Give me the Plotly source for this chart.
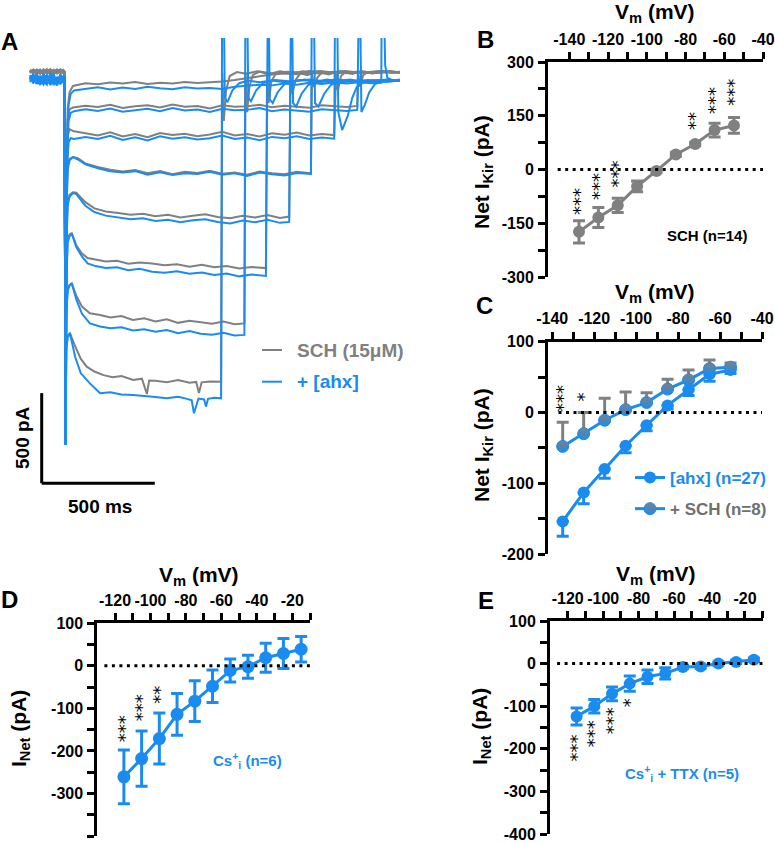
import plotly.graph_objects as go

W, H = 775, 843
BLUE = "#1a8cf0"
GRAY = "#808080"
FONT = "Liberation Sans, Arial, sans-serif"

# ---------------- Panel A: current traces (ms, pA) ----------------
PRE_T = [-155, -140, -125, -110, -95, -80, -65, -50, -35, -20, -8]

gray_t = [
    PRE_T + [-2, 2, 6, 12, 20, 35] + [90, 145, 200, 255, 310, 365, 420, 475, 530, 585, 640, 695, 750, 805, 860, 915, 970, 1025, 1080, 1135, 1190, 1245, 1300, 1355, 1398] + [1420, 1450, 1480],
    PRE_T + [-2, 2, 6, 12, 20, 35] + [90, 145, 200, 255, 310, 365, 420, 475, 530, 585, 640, 695, 750, 805, 860, 915, 970, 1025, 1080, 1135, 1190, 1245, 1292] + [1297, 1305, 1318, 1335, 1360, 1400, 1440, 1480],
    PRE_T + [-2, 2, 6, 12, 20, 35] + [90, 145, 200, 255, 310, 365, 420, 475, 530, 585, 640, 695, 750, 805, 860, 915, 970, 1025, 1080, 1135, 1190] + [1198, 1206, 1220, 1240, 1270, 1310, 1360, 1420, 1480],
    PRE_T + [-2, 2, 6, 12, 20, 35, 55] + [90, 145, 200, 255, 310, 365, 420, 475, 530, 585, 640, 695, 750, 805, 860, 915, 970, 1025, 1087] + [1092, 1100, 1115, 1135, 1165, 1210, 1260, 1320, 1380, 1440, 1480],
    PRE_T + [-2, 2, 6, 12, 20, 35, 50] + [90, 130, 180, 235, 290, 345, 400, 455, 510, 565, 620, 675, 730, 785, 840, 895, 950, 991] + [996, 1005, 1020, 1040, 1070, 1110, 1160, 1220, 1280, 1340, 1400, 1480],
    PRE_T + [-2, 2, 6, 12, 20, 30, 50, 74] + [100, 135, 180, 230, 280, 330, 385, 440, 495, 550, 605, 660, 715, 770, 825, 888] + [893, 900, 912, 930, 960, 1000, 1050, 1110, 1170, 1240, 1310, 1380, 1480],
    PRE_T + [-2, 2, 6, 12, 20, 30, 50, 75, 110] + [155, 200, 250, 300, 350, 400, 450, 500, 550, 600, 650, 700, 750, 793] + [798, 805, 815, 830, 860, 900, 950, 1010, 1080, 1150, 1230, 1310, 1400, 1480],
    PRE_T + [-2, 2, 6, 12, 22, 45, 70, 96] + [130, 170, 210, 250, 301, 340, 362, 372, 400, 450, 500, 550, 580, 592, 604, 640, 690] + [695, 702, 712, 728, 760, 800, 850, 910, 980, 1050, 1130, 1210, 1290, 1380, 1480],
]
gray_i = [
    [25, 36, 14, 30, 22, 38, 12, 28, 35, 17, 26] + [20, -1850, -500, -180, -90, -55] + [-40, -46, -36, -42, -34, -44, -37, -41, -33, -39, -35, -30, -22, -14, -2, 8, 14, 10, 18, 14, 22, 16, 24, 18, 20] + [26, 18, 24],
    [30, 15, 35, 20, 37, 14, 27, 11, 33, 19, 32] + [22, -1880, -520, -240, -185, -175] + [-165, -172, -160, -178, -168, -163, -175, -158, -170, -166, -180, -162, -171, -168, -160, -174, -165, -170, -176, -162, -168, -172, -166] + [10, -60, 5, 20, 14, 26, 18, 24],
    [17, 34, 26, 12, 31, 22, 38, 15, 27, 20, 33] + [24, -1900, -560, -330, -295, -305] + [-318, -330, -312, -335, -322, -340, -316, -328, -320, -334, -325, -310, -330, -322, -336, -318, -326, -314, -330, -322, -328] + [12, -80, 0, 22, 12, 28, 16, 25, 20],
    [34, 19, 29, 14, 35, 23, 12, 31, 20, 37, 16] + [22, -1950, -700, -520, -470, -450, -455] + [-485, -505, -520, -530, -522, -540, -528, -545, -532, -538, -526, -542, -535, -548, -530, -540, -545, -532, -540] + [15, -60, -10, 20, 8, 26, 14, 24, 18, 28, 20],
    [22, 33, 15, 30, 18, 34, 26, 12, 36, 25, 17] + [20, -2000, -900, -700, -660, -645, -648] + [-700, -735, -752, -760, -770, -765, -778, -770, -785, -775, -768, -782, -790, -776, -785, -772, -788, -780] + [18, -100, -20, 15, 5, 22, 12, 25, 16, 22, 28, 20],
    [29, 16, 33, 24, 13, 35, 21, 30, 17, 28, 34] + [22, -2040, -1100, -900, -880, -873, -940, -984] + [-1010, -1020, -1030, -1025, -1042, -1035, -1040, -1050, -1045, -1058, -1048, -1062, -1055, -1068, -1060, -1066] + [20, -150, -30, 10, 24, 12, 26, 15, 22, 28, 18, 24, 20],
    [20, 31, 24, 36, 15, 29, 22, 34, 13, 27, 21] + [20, -2040, -1300, -1180, -1160, -1151, -1220, -1280, -1317] + [-1326, -1340, -1332, -1354, -1345, -1362, -1350, -1370, -1358, -1368, -1375, -1362, -1378, -1373] + [22, -200, -60, 5, 24, 10, 26, 14, 28, 18, 24, 16, 26, 20],
    [27, 18, 33, 21, 30, 13, 35, 24, 16, 31, 23] + [20, -2040, -1500, -1440, -1428, -1500, -1570, -1613] + [-1640, -1660, -1672, -1665, -1687, -1680, -1765, -1690, -1692, -1700, -1688, -1702, -1698, -1760, -1700, -1695, -1697] + [18, -250, -80, 0, 22, 12, 26, 15, 24, 20, 28, 16, 24, 18, 22],
]

blue_t = [
    PRE_T + [-2, 2, 6, 10, 16, 25, 40] + [90, 145, 200, 255, 310, 365, 420, 475, 530, 585, 640, 695, 750, 805, 860, 915, 970, 1025, 1080, 1135, 1190, 1245, 1300, 1355, 1398] + [1401, 1406, 1415, 1425, 1450, 1480],
    PRE_T + [-2, 2, 6, 10, 16, 25, 40] + [90, 145, 200, 255, 310, 365, 420, 475, 530, 585, 640, 695, 750, 805, 860, 915, 970, 1025, 1080, 1135, 1190, 1245, 1292] + [1297, 1302, 1310, 1325, 1345, 1370, 1400, 1440, 1480],
    PRE_T + [-2, 2, 6, 10, 16, 25, 40] + [90, 145, 200, 255, 310, 365, 420, 475, 530, 585, 640, 695, 750, 805, 860, 915, 970, 1025, 1080, 1135, 1190] + [1195, 1200, 1208, 1225, 1250, 1270, 1290, 1320, 1360, 1420, 1480],
    PRE_T + [-2, 2, 6, 12, 20, 35, 55] + [90, 145, 200, 255, 310, 365, 420, 475, 530, 585, 640, 695, 750, 805, 860, 915, 970, 1025, 1087] + [1092, 1097, 1105, 1120, 1145, 1175, 1210, 1260, 1320, 1380, 1440, 1480],
    PRE_T + [-2, 2, 6, 12, 20, 35, 50] + [90, 130, 180, 235, 290, 345, 400, 455, 510, 565, 620, 675, 730, 785, 840, 895, 950, 991] + [996, 1001, 1008, 1022, 1045, 1075, 1110, 1160, 1220, 1290, 1360, 1420, 1480],
    PRE_T + [-2, 2, 6, 12, 20, 30, 50, 74] + [100, 135, 180, 230, 280, 330, 385, 440, 495, 550, 605, 660, 715, 770, 825, 888] + [893, 898, 905, 918, 940, 970, 1010, 1060, 1120, 1190, 1260, 1340, 1410, 1480],
    PRE_T + [-2, 2, 6, 12, 20, 30, 50, 75, 110] + [155, 200, 250, 300, 350, 400, 450, 500, 550, 600, 650, 700, 750, 793] + [798, 803, 810, 822, 845, 875, 915, 970, 1040, 1120, 1200, 1290, 1380, 1480],
    PRE_T + [-2, 2, 6, 12, 22, 45, 70, 110] + [155, 200, 250, 301, 350, 400, 449, 500, 540, 560, 570, 590, 615, 623, 632, 660, 690] + [695, 700, 706, 718, 740, 770, 810, 860, 930, 1000, 1080, 1160, 1240, 1320, 1400, 1480],
]
blue_i = [
    [5, -32, 14, -46, -6, -36, 16, -20, -44, 4, -26] + [-10, -2048, -900, -350, -160, -100, -80] + [-70, -62, -75, -64, -72, -60, -68, -74, -62, -70, -66, -72, -60, -55, -48, -52, -42, -48, -38, -45, -36, -42, -35, -40, -38] + [700, 700, 60, -10, -25, -20],
    [-14, 10, -40, -2, -28, -48, 8, -34, -8, -42, -16] + [-12, -2048, -1000, -420, -250, -205, -195] + [-185, -194, -180, -198, -188, -182, -196, -178, -192, -186, -200, -182, -190, -188, -178, -196, -186, -192, -198, -184, -190, -194, -188] + [700, 700, -200, -160, -90, -45, -30, -22, -28],
    [-34, 2, -16, -50, 12, -24, -44, -4, -38, 6, -30] + [-10, -2048, -1050, -480, -370, -345, -350] + [-338, -350, -332, -355, -340, -358, -335, -348, -340, -352, -345, -330, -350, -342, -356, -338, -346, -334, -350, -342, -348] + [700, 700, -200, -300, -220, -120, -60, -35, -25, -32, -22],
    [-6, -40, 8, -22, -47, -10, -32, 12, -42, -18, -2] + [-8, -2048, -750, -500, -460, -450, -462] + [-490, -512, -528, -536, -528, -548, -534, -550, -540, -544, -532, -548, -540, -555, -536, -546, -552, -538, -544] + [700, 700, -150, -170, -100, -50, -30, -20, -35, -25, -30, -22],
    [-20, 8, -42, -8, -30, 2, -50, -14, -36, 10, -24] + [-10, -2048, -950, -720, -670, -650, -655] + [-720, -755, -775, -785, -795, -790, -805, -798, -812, -800, -795, -810, -818, -802, -812, -798, -815, -810] + [700, 700, -150, -170, -100, -50, -30, -20, -35, -25, -32, -20, -28],
    [-2, -36, -12, -48, 4, -28, -40, -8, -22, -46, 0] + [-10, -2048, -1150, -920, -890, -875, -950, -1000] + [-1040, -1055, -1065, -1062, -1078, -1070, -1086, -1092, -1084, -1098, -1090, -1104, -1096, -1112, -1102, -1110] + [700, 700, -130, -150, -90, -45, -30, -20, -35, -25, -30, -22, -32, -24],
    [-26, -2, -44, -14, 8, -34, -8, -50, -20, 0, -38] + [-10, -2048, -1320, -1190, -1165, -1151, -1240, -1320, -1373] + [-1390, -1400, -1395, -1412, -1405, -1419, -1410, -1428, -1416, -1430, -1436, -1425, -1440, -1437] + [700, 700, -120, -140, -80, -40, -25, -35, -22, -30, -20, -32, -24, -28],
    [-10, -32, 2, -46, -18, 6, -38, -24, -52, -6, -28] + [-10, -2048, -1520, -1450, -1428, -1560, -1650, -1706] + [-1761, -1755, -1768, -1770, -1778, -1782, -1789, -1780, -1792, -1800, -1872, -1790, -1795, -1835, -1792, -1786, -1789] + [700, 700, -120, -145, -80, -40, -25, -35, -22, -30, -20, -32, -24, -30, -22, -26],
]

SCALE_PA = 500
SCALE_MS = 500

# ---------------- Panel B ----------------
VB = [-135, -125, -115, -105, -95, -85, -75, -65, -55]
IB = [-174, -134, -100, -47, -4, 42, 71, 110, 123]
EB = [31, 28, 20, 15, 5, 5, 5, 19, 22]
STARS_B = [(-135, "***"), (-125, "***"), (-115, "***"), (-75, "**"), (-65, "***"), (-55, "***")]
STARS_B_Y = [-88, -48, -12, 136, 193, 217]

# ---------------- Panel C ----------------
VC = [-135, -125, -115, -105, -95, -85, -75, -65, -55]
IC_AHX = [-154, -113, -80, -47, -18, 10, 32, 54, 60]
EC_AHX = [21, 16, 13, 10, 8, 5, 8, 10, 5]
IC_SCH = [-48, -30, -11, 4, 14, 33, 46, 62, 64]
EC_SCH = [34, 30, 31, 25, 14, 14, 14, 12, 6]
STARS_C = [(-135, "***"), (-125, "*")]
STARS_C_Y = [20, 22]

# ---------------- Panel D ----------------
VD = [-115, -105, -95, -85, -75, -65, -55, -45, -35, -25, -15]
ID = [-261, -218, -171, -114, -83, -48, -11, -2, 19, 29, 39]
ED = [63, 65, 60, 49, 48, 38, 27, 27, 34, 35, 30]
STARS_D = [(-115, "***"), (-105, "***"), (-95, "**")]
STARS_D_Y = [-147, -98, -67]

# ---------------- Panel E ----------------
VE = [-115, -105, -95, -85, -75, -65, -55, -45, -35, -25, -15]
IE = [-124, -100, -71, -47, -31, -23, -8, -7, 0, 4, 9]
EE = [20, 16, 16, 18, 16, 13, 4, 4, 4, 4, 4]
STARS_E = [(-115, "***"), (-105, "***"), (-95, "***"), (-85, "*")]
STARS_E_Y = [-198, -165, -135, -91]

X_TICKS_BC = [-140, -120, -100, -80, -60, -40]
X_TICKS_DE = [-120, -100, -80, -60, -40, -20]
Y_TICKS_B = [-300, -150, 0, 150, 300]
Y_TICKS_C = [-200, -100, 0, 100]
Y_TICKS_DE = [-400, -300, -200, -100, 0, 100]


def px(x):
    return x / W


def py(y):
    return 1 - y / H


fig = go.Figure()

# Panel A traces
for t, i in zip(gray_t, gray_i):
    n = min(len(t), len(i))
    fig.add_trace(go.Scatter(x=t[:n], y=i[:n], mode="lines", line=dict(color=GRAY, width=2),
                             xaxis="x", yaxis="y", showlegend=False, hoverinfo="skip"))
for t, i in zip(blue_t, blue_i):
    n = min(len(t), len(i))
    fig.add_trace(go.Scatter(x=t[:n], y=i[:n], mode="lines", line=dict(color=BLUE, width=2),
                             xaxis="x", yaxis="y", showlegend=False, hoverinfo="skip"))

# Panel B
fig.add_trace(go.Scatter(x=VB, y=IB, mode="lines+markers", xaxis="x2", yaxis="y2",
                         line=dict(color=GRAY, width=3), marker=dict(color=GRAY, size=12),
                         error_y=dict(type="data", array=EB, color=GRAY, thickness=3, width=6),
                         showlegend=False))

# Panel C
fig.add_trace(go.Scatter(x=VC, y=IC_AHX, mode="lines+markers", xaxis="x3", yaxis="y3",
                         name="[ahx] (n=27)", legendgroup="a",
                         line=dict(color=BLUE, width=3), marker=dict(color=BLUE, size=12),
                         error_y=dict(type="data", symmetric=False, array=[0] * len(EC_AHX),
                                      arrayminus=EC_AHX, color=BLUE, thickness=3, width=6)))
fig.add_trace(go.Scatter(x=VC, y=IC_SCH, mode="lines+markers", xaxis="x3", yaxis="y3",
                         name="<span style='color:#6f6f6f'>+ SCH (n=8)</span>", legendgroup="b",
                         line=dict(color=BLUE, width=3),
                         marker=dict(color=GRAY, size=12, gradient=dict(type="vertical", color=BLUE),
                                     line=dict(color=BLUE, width=1)),
                         error_y=dict(type="data", symmetric=False, array=EC_SCH,
                                      arrayminus=[0] * len(EC_SCH), color=GRAY, thickness=3, width=6)))

# Panel D
fig.add_trace(go.Scatter(x=VD, y=ID, mode="lines+markers", xaxis="x4", yaxis="y4",
                         line=dict(color=BLUE, width=3), marker=dict(color=BLUE, size=13),
                         error_y=dict(type="data", array=ED, color=BLUE, thickness=3, width=6),
                         showlegend=False))

# Panel E
fig.add_trace(go.Scatter(x=VE, y=IE, mode="lines+markers", xaxis="x5", yaxis="y5",
                         line=dict(color=BLUE, width=3), marker=dict(color=BLUE, size=12),
                         error_y=dict(type="data", array=EE, color=BLUE, thickness=3, width=6),
                         showlegend=False))

tickfont = dict(family=FONT, size=16, color="black", weight="bold")


def labels(vals):
    return [str(v) for v in vals]


def xax(domain, rng, major, minor, anchor):
    return dict(domain=domain, range=rng, side="top", anchor=anchor, tickmode="array", tickvals=major,
                ticktext=labels(major),
                ticks="outside", ticklen=7, tickwidth=3, tickcolor="black", tickangle=0,
                showline=True, linewidth=3, linecolor="black", showgrid=False, zeroline=False,
                tickfont=tickfont, ticklabelstandoff=1, automargin=False,
                minor=dict(tickmode="array", tickvals=minor, ticks="outside", ticklen=7, tickwidth=3,
                           tickcolor="black", showgrid=False))


def yax(domain, rng, major, minor, anchor):
    return dict(domain=domain, range=rng, anchor=anchor, tickmode="array", tickvals=major,
                ticktext=labels(major),
                ticks="outside", ticklen=7, tickwidth=3, tickcolor="black",
                showline=True, linewidth=3, linecolor="black", showgrid=False, zeroline=False,
                tickfont=tickfont, ticklabelstandoff=1, automargin=False,
                minor=dict(tickmode="array", tickvals=minor, ticks="outside", ticklen=7, tickwidth=3,
                           tickcolor="black", showgrid=False))


layout = dict(
    width=W, height=H, margin=dict(l=0, r=0, t=0, b=0, autoexpand=False),
    paper_bgcolor="white", plot_bgcolor="rgba(0,0,0,0)",
    font=dict(family=FONT, color="black"),
    xaxis=dict(domain=[px(28), px(400)], range=[(28 - 65) * 4.42, (400 - 65) * 4.42], visible=False,
               anchor="y", automargin=False),
    yaxis=dict(domain=[py(520), py(38)], range=[-(520 - 76) * 5.55, -(38 - 76) * 5.55], visible=False,
               anchor="x", automargin=False),
    xaxis2=xax([px(548), px(763)], [-151, -40], X_TICKS_BC, [-130, -110, -90, -70, -50], "y2"),
    yaxis2=yax([py(277), py(62)], [-300, 300], Y_TICKS_B, [-225, -75, 75, 225], "x2"),
    xaxis3=xax([px(548), px(762)], [-142, -40], X_TICKS_BC, [-130, -110, -90, -70, -50], "y3"),
    yaxis3=yax([py(554), py(341.7)], [-200, 100], Y_TICKS_C, [-150, -50, 50], "x3"),
    xaxis4=xax([px(97.3), px(310)], [-130, -10], X_TICKS_DE, [-110, -90, -70, -50, -30, -10], "y4"),
    yaxis4=yax([py(836), py(623.3)], [-400, 100], Y_TICKS_DE, [-350, -250, -150, -50, 50], "x4"),
    xaxis5=xax([px(550), px(762.7)], [-130, -10], X_TICKS_DE, [-110, -90, -70, -50, -30, -10], "y5"),
    yaxis5=yax([py(834), py(621)], [-400, 100], Y_TICKS_DE, [-350, -250, -150, -50, 50], "x5"),
    legend=dict(x=px(630), y=py(460), xanchor="left", yanchor="top", bgcolor="rgba(0,0,0,0)",
                font=dict(family=FONT, size=17, color=BLUE, weight="bold"), traceorder="grouped",
                tracegroupgap=6, itemwidth=30),
    hovermode=False,
)
fig.update_layout(**layout)

shapes = []
# zero dotted lines
for xr, yr, x0, x1 in [("x2", "y2", -146, -40), ("x3", "y3", -137, -40), ("x4", "y4", -126, -10),
                       ("x5", "y5", -126, -10)]:
    shapes.append(dict(type="line", xref=xr, yref=yr, x0=x0, x1=x1, y0=0, y1=0,
                       line=dict(color="black", width=3, dash="3px,4.5px")))
# scale bars (panel A)
sb_t, sb_i = -103, -2260
shapes.append(dict(type="line", xref="x", yref="y", x0=sb_t, x1=sb_t, y0=sb_i, y1=sb_i + SCALE_PA,
                   line=dict(color="black", width=3)))
shapes.append(dict(type="line", xref="x", yref="y", x0=sb_t, x1=sb_t + SCALE_MS, y0=sb_i, y1=sb_i,
                   line=dict(color="black", width=3)))
# panel A legend dashes
shapes.append(dict(type="line", xref="paper", yref="paper", x0=px(262), x1=px(282), y0=py(350), y1=py(350),
                   line=dict(color=GRAY, width=2)))
shapes.append(dict(type="line", xref="paper", yref="paper", x0=px(262), x1=px(282), y0=py(381.7),
                   y1=py(381.7), line=dict(color=BLUE, width=2)))

ann = []


def text(x, y, s, size, color="black", angle=0, xanchor="center"):
    ann.append(dict(x=px(x), y=py(y), xref="paper", yref="paper", text=s, showarrow=False,
                    font=dict(family=FONT, size=size, color=color), textangle=angle,
                    xanchor=xanchor, yanchor="middle"))


# panel letters
for lx, ly, s in [(9, 42, "A"), (485, 40, "B"), (484, 305, "C"), (9, 599, "D"), (486, 600, "E")]:
    text(lx, ly, "<b>%s</b>" % s, 24)
# axis titles
VM = "<b>V<sub>m</sub> (mV)</b>"
text(655, 13, VM, 21)
text(655, 293, VM, 21)
text(199, 576, VM, 21)
text(656, 575, VM, 21)
text(483, 172, "<b>Net I<sub>Kir</sub> (pA)</b>", 21, angle=-90)
text(483, 445, "<b>Net I<sub>Kir</sub> (pA)</b>", 21, angle=-90)
text(20, 729, "<b>I<sub>Net</sub> (pA)</b>", 21, angle=-90)
text(481, 727, "<b>I<sub>Net</sub> (pA)</b>", 21, angle=-90)
# panel A legend & scale labels
text(295, 350, "<b>SCH (15μM)</b>", 19, color=GRAY, xanchor="left")
text(295, 381.7, "<b>+ [ahx]</b>", 19, color=BLUE, xanchor="left")
text(22, 438, "<b>500 pA</b>", 19, angle=-90)
text(100, 507, "<b>500 ms</b>", 19)
# inset texts
text(707, 235, "<b>SCH (n=14)</b>", 15)
text(247, 760, "<b>Cs<sup>+</sup><sub>i</sub> (n=6)</b>", 15, color=BLUE)
text(682, 773, "<b>Cs<sup>+</sup><sub>i</sub> + TTX (n=5)</b>", 15, color=BLUE)

# significance stars
STAR_FONT = dict(family="DejaVu Sans, sans-serif", size=18, color="black")
for xr, yr, stars, ys in [("x2", "y2", STARS_B, STARS_B_Y), ("x3", "y3", STARS_C, STARS_C_Y),
                          ("x4", "y4", STARS_D, STARS_D_Y), ("x5", "y5", STARS_E, STARS_E_Y)]:
    for (xv, s), yv in zip(stars, ys):
        ann.append(dict(x=xv, y=yv, xref=xr, yref=yr, text=s, showarrow=False, textangle=-90,
                        font=STAR_FONT))

fig.update_layout(shapes=shapes, annotations=ann)
fig.write_html("out.html", config={"displayModeBar": False, "staticPlot": True},
               post_script="document.body.style.margin='0';document.body.style.padding='0';"
                           "document.documentElement.style.overflow='hidden';")
